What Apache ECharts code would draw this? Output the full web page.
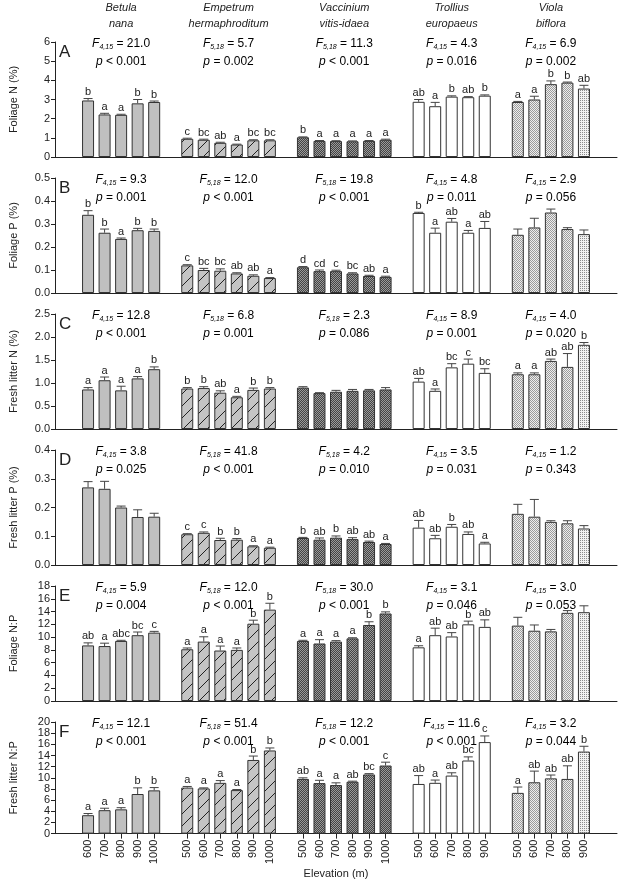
<!DOCTYPE html>
<html><head><meta charset="utf-8">
<script src="https://cdn.jsdelivr.net/npm/echarts@6/dist/echarts.min.js"></script>
<style>html,body{margin:0;padding:0;background:#fff}#c{width:620px;height:880px}</style>
</head><body><div id="c"></div>
<script>
// ---------- DATA ----------
const speciesTop = ['Betula','Empetrum','Vaccinium','Trollius','Viola'];
const speciesBottom = ['nana','hermaphroditum','vitis-idaea','europaeus','biflora'];
const betulaElev = ['600','700','800','900','1000'];
const empetrumElev = ['500','600','700','800','900','1000'];
const vacciniumElev = ['500','600','700','800','900','1000'];
const trolliusElev = ['500','600','700','800','900'];
const violaElev = ['500','600','700','800','900'];
const dfLabels = ['4,15','5,18','5,18','4,15','4,15'];

const panelLetters = ['A','B','C','D','E','F'];
const yNames = ['Foliage N (%)','Foliage P (%)','Fresh litter N (%)','Fresh litter P (%)','Foliage N:P','Fresh litter N:P'];
const yMax = [6, 0.5, 2.5, 0.4, 18, 20];
const yInterval = [1, 0.1, 0.5, 0.1, 2, 2];

// order: Betula(5), Empetrum(6), Vaccinium(6), Trollius(5), Viola(5)
const foliageN = [2.95,2.22,2.2,2.8,2.87, 0.95,0.9,0.74,0.65,0.87,0.87, 1.03,0.84,0.83,0.82,0.84,0.9, 2.88,2.65,3.15,3.12,3.2, 2.87,3.0,3.8,3.88,3.57];
const foliageNErr = [0.1,0.06,0.03,0.2,0.05, 0.03,0.03,0.03,0.02,0.03,0.03, 0.02,0.02,0.02,0.02,0.02,0.03, 0.12,0.2,0.04,0.03,0.04, 0.03,0.17,0.17,0.03,0.17];
const foliageNLet = ['b','a','a','b','b', 'c','bc','ab','a','bc','bc', 'b','a','a','a','a','a', 'ab','a','b','ab','b', 'a','a','b','b','ab'];

const foliageP = [0.34,0.262,0.235,0.273,0.27, 0.12,0.1,0.097,0.085,0.075,0.065, 0.112,0.095,0.095,0.085,0.074,0.07, 0.348,0.262,0.31,0.262,0.283, 0.253,0.285,0.35,0.278,0.256];
const foliagePErr = [0.018,0.016,0.004,0.008,0.008, 0.003,0.007,0.008,0.003,0.004,0.002, 0.003,0.005,0.004,0.003,0.003,0.003, 0.003,0.02,0.014,0.01,0.028, 0.025,0.04,0.015,0.006,0.018];
const foliagePLet = ['b','b','a','b','b', 'c','bc','bc','ab','ab','a', 'd','cd','c','bc','ab','a', 'b','a','ab','a','ab', '','','','',''];

const litterN = [0.86,1.06,0.84,1.1,1.3, 0.88,0.89,0.79,0.69,0.85,0.88, 0.9,0.78,0.81,0.83,0.84,0.86, 1.03,0.83,1.34,1.42,1.22, 1.19,1.19,1.48,1.35,1.83];
const litterNErr = [0.04,0.07,0.09,0.04,0.05, 0.02,0.03,0.04,0.02,0.04,0.02, 0.02,0.01,0.03,0.03,0.02,0.04, 0.07,0.04,0.08,0.1,0.09, 0.03,0.03,0.04,0.29,0.05];
const litterNLet = ['a','a','a','a','b', 'b','b','ab','a','b','b', '','','','','','', 'ab','a','bc','c','bc', 'a','a','ab','ab','b'];

const litterP = [0.27,0.265,0.2,0.167,0.168, 0.107,0.112,0.087,0.088,0.065,0.06, 0.094,0.088,0.095,0.09,0.08,0.073, 0.13,0.093,0.133,0.108,0.075, 0.178,0.168,0.15,0.145,0.127];
const litterPErr = [0.02,0.026,0.005,0.025,0.012, 0.002,0.003,0.006,0.004,0.002,0.002, 0.002,0.006,0.006,0.005,0.003,0.002, 0.025,0.01,0.008,0.007,0.004, 0.033,0.06,0.004,0.009,0.01];
const litterPLet = ['','','','','', 'c','c','b','b','a','a', 'b','ab','b','ab','ab','a', 'ab','ab','b','ab','a', '','','','',''];

const foliageNP = [8.7,8.6,9.4,10.3,10.7, 8.1,9.3,7.9,8.0,12.1,14.3, 9.4,9.0,9.3,9.8,11.9,13.7, 8.4,10.3,10.1,12.0,11.6, 11.8,11.0,10.9,13.8,13.9];
const foliageNPErr = [0.4,0.45,0.1,0.5,0.2, 0.2,0.75,0.7,0.3,0.55,1.0, 0.1,0.6,0.15,0.1,0.5,0.25, 0.25,1.1,0.6,0.5,1.1, 1.3,0.9,0.3,0.35,1.0];
const foliageNPLet = ['ab','a','abc','bc','c', 'a','a','a','a','b','b', 'a','a','a','a','b','b', 'a','ab','ab','b','ab', '','','','',''];

const litterNP = [3.3,4.2,4.35,7.1,7.75, 8.25,8.1,9.1,7.8,13.2,14.9, 9.8,9.05,8.7,9.3,10.6,12.2, 8.9,9.1,10.4,13.1,16.4, 7.3,9.2,9.9,9.8,14.7];
const litterNPErr = [0.3,0.35,0.3,1.1,0.5, 0.2,0.1,0.4,0.1,0.7,0.45, 0.2,0.5,0.4,0.1,0.15,0.6, 1.5,0.5,0.5,0.65,1.1, 1.05,2.0,0.6,2.35,0.95];
const litterNPLet = ['a','a','a','b','b', 'a','a','a','a','b','b', 'ab','a','a','ab','bc','c', 'ab','a','ab','bc','c', 'a','ab','ab','ab','b'];

const fA = ['21.0','5.7','11.3','4.3','6.9'];
const pA = ['< 0.001','= 0.002','< 0.001','= 0.016','= 0.002'];
const fB = ['9.3','12.0','19.8','4.8','2.9'];
const pB = ['= 0.001','< 0.001','< 0.001','= 0.011','= 0.056'];
const fC = ['12.8','6.8','2.3','8.9','4.0'];
const pC = ['< 0.001','= 0.001','= 0.086','= 0.001','= 0.020'];
const fD = ['3.8','41.8','4.2','3.5','1.2'];
const pD = ['= 0.025','< 0.001','= 0.010','= 0.031','= 0.343'];
const fE = ['5.9','12.0','30.0','3.1','3.0'];
const pE = ['= 0.004','< 0.001','< 0.001','= 0.046','= 0.053'];
const fF = ['12.1','51.4','12.2','11.6','3.2'];
const pF = ['< 0.001','< 0.001','< 0.001','< 0.001','= 0.044'];

// ---------- BUILD ----------
const groups = [betulaElev, empetrumElev, vacciniumElev, trolliusElev, violaElev];
const xCats = ['', ''];
const barIndex = [];
const barGroup = [];
const groupRange = [];
groups.forEach((g, gi) => {
  if (gi > 0) xCats.push('');
  const start = xCats.length;
  g.forEach(e => { barIndex.push(xCats.length); barGroup.push(gi); xCats.push(e); });
  groupRange.push([start, xCats.length - 1]);
});
xCats.push('', '');

const panels = [
  {v: foliageN, e: foliageNErr, l: foliageNLet, f: fA, p: pA},
  {v: foliageP, e: foliagePErr, l: foliagePLet, f: fB, p: pB},
  {v: litterN, e: litterNErr, l: litterNLet, f: fC, p: pC},
  {v: litterP, e: litterPErr, l: litterPLet, f: fD, p: pD},
  {v: foliageNP, e: foliageNPErr, l: foliageNPLet, f: fE, p: pE},
  {v: litterNP, e: litterNPErr, l: litterNPLet, f: fF, p: pF}
];

function pat(w, h, draw) {
  const c = document.createElement('canvas'); c.width = w; c.height = h;
  const g = c.getContext('2d'); draw(g); return {image: c, repeat: 'repeat'};
}
const colBetula = '#c0c0c0';
const colEmp = pat(12, 12, g => { g.fillStyle = '#c4c4c4'; g.fillRect(0,0,12,12); g.strokeStyle = '#222'; g.lineWidth = 1; g.beginPath(); g.moveTo(-1,13); g.lineTo(13,-1); g.stroke(); });
const colVac = pat(2, 2, g => { g.fillStyle = '#444'; g.fillRect(0,0,2,2); g.fillStyle = '#9a9a9a'; g.fillRect(0,0,1,1); g.fillRect(1,1,1,1); });
const colTro = '#ffffff';
const colVio = pat(2, 2, g => { g.fillStyle = '#eeeeee'; g.fillRect(0,0,2,2); g.fillStyle = '#9c9c9c'; g.fillRect(0,0,1,1); g.fillRect(1,1,1,1); });
const colVio2 = pat(2, 2, g => { g.fillStyle = '#f2f2f2'; g.fillRect(0,0,2,2); g.fillStyle = '#8c8c8c'; g.fillRect(0,0,1,1); });
const groupColors = [colBetula, colEmp, colVac, colTro, colVio];

const FONT = '"Liberation Sans", Arial, sans-serif';
const TXT = '#222';
const gridTop0 = 42, gridPitch = 136, gridH = 115;

const grid = [], xAxis = [], yAxis = [], series = [], graphic = [];
panels.forEach((pn, k) => {
  const top = gridTop0 + k * gridPitch;
  grid.push({left: 50, right: 3, top: top, height: gridH});
  const last = k === panels.length - 1;
  xAxis.push({
    type: 'category', gridIndex: k, data: xCats, boundaryGap: false,
    axisLine: {show: true, lineStyle: {color: TXT, width: 1}},
    axisTick: {show: last, length: 5, interval: (i, v) => v !== '', lineStyle: {color: TXT}},
    axisLabel: {show: last, interval: 0, rotate: 90, fontSize: 11, fontFamily: FONT, color: TXT, margin: 6},
    name: last ? 'Elevation (m)' : '', nameLocation: 'middle', nameGap: 33,
    nameTextStyle: {fontSize: 11, fontFamily: FONT, color: TXT},
    splitLine: {show: false}
  });
  yAxis.push({
    type: 'value', gridIndex: k, min: 0, max: yMax[k], interval: yInterval[k],
    axisLine: {show: true, lineStyle: {color: TXT, width: 1}},
    axisTick: {show: true, length: 4, lineStyle: {color: TXT}},
    axisLabel: {fontSize: 11, fontFamily: FONT, color: TXT, margin: 5,
      formatter: v => (yInterval[k] < 1 ? v.toFixed(1) : String(v))},
    splitLine: {show: false},
    name: yNames[k], nameLocation: 'middle', nameGap: 36,
    nameTextStyle: {fontSize: 11, fontFamily: FONT, color: TXT}
  });
  const barData = xCats.map(() => null);
  pn.v.forEach((val, i) => {
    const gi = barGroup[i];
    let col = groupColors[gi];
    if (gi === 4 && i === pn.v.length - 1) col = colVio2;
    barData[barIndex[i]] = {value: val, itemStyle: {color: col}};
  });
  series.push({
    type: 'bar', xAxisIndex: k, yAxisIndex: k, data: barData, barWidth: 12,
    itemStyle: {borderColor: '#333', borderWidth: 1}, silent: true, animation: false
  });
  const errData = pn.v.map((val, i) => [barIndex[i], val, pn.e[i]]);
  const lets = pn.l;
  series.push({
    type: 'custom', xAxisIndex: k, yAxisIndex: k, data: errData, z: 5, animation: false,
    encode: {x: 0, y: 1},
    renderItem: (params, api) => {
      const x = api.value(0), m = api.value(1), e = api.value(2);
      const p0 = api.coord([x, m]), p1 = api.coord([x, m + e]);
      const st = {stroke: '#444', lineWidth: 1};
      const ch = [
        {type: 'line', shape: {x1: p0[0], y1: p0[1], x2: p1[0], y2: p1[1]}, style: st},
        {type: 'line', shape: {x1: p1[0] - 4.5, y1: p1[1], x2: p1[0] + 4.5, y2: p1[1]}, style: st}
      ];
      const L = lets[params.dataIndex];
      if (L) ch.push({type: 'text', x: p1[0], y: p1[1] - 1, style: {text: L, fill: TXT, font: '11px ' + FONT,
        align: 'center', verticalAlign: 'bottom', textAlign: 'center', textVerticalAlign: 'bottom'}});
      return {type: 'group', children: ch};
    }
  });
  const statData = groupRange.map(r => [r[0], 0, r[1]]);
  series.push({
    type: 'custom', xAxisIndex: k, yAxisIndex: k, data: statData, z: 6, animation: false,
    encode: {x: 0, y: 1},
    renderItem: (params, api) => {
      const a = api.coord([api.value(0), 0]), b = api.coord([api.value(2), 0]);
      const cx = (a[0] + b[0]) / 2, t = params.coordSys.y;
      const gi = params.dataIndex;
      const rich = {
        i: {fontStyle: 'italic', fontSize: 12, fontFamily: FONT, color: TXT, lineHeight: 14},
        s: {fontStyle: 'italic', fontSize: 7, fontFamily: FONT, color: TXT, lineHeight: 7, verticalAlign: 'bottom'},
        n: {fontSize: 12, fontFamily: FONT, color: TXT, lineHeight: 14}
      };
      const ch = [
        {type: 'text', x: cx, y: t + 2, style: {text: '{i|F}{s|' + dfLabels[gi] + '}{n| = ' + pn.f[gi] + '}', rich: rich,
          align: 'center', verticalAlign: 'middle', textAlign: 'center', textVerticalAlign: 'middle'}},
        {type: 'text', x: cx, y: t + 20, style: {text: '{i|p}{n| ' + pn.p[gi] + '}', rich: rich,
          align: 'center', verticalAlign: 'middle', textAlign: 'center', textVerticalAlign: 'middle'}}
      ];
      if (k === 0) {
        ch.push({type: 'text', x: cx, y: t - 34, style: {text: speciesTop[gi], fill: TXT, font: 'italic 11px ' + FONT,
          align: 'center', verticalAlign: 'middle', textAlign: 'center', textVerticalAlign: 'middle'}});
        ch.push({type: 'text', x: cx, y: t - 18, style: {text: speciesBottom[gi], fill: TXT, font: 'italic 11px ' + FONT,
          align: 'center', verticalAlign: 'middle', textAlign: 'center', textVerticalAlign: 'middle'}});
      }
      return {type: 'group', children: ch};
    }
  });
  graphic.push({type: 'text', left: 59, top: top + 2, style: {text: panelLetters[k], fill: TXT, font: '17px ' + FONT}});
});

const chart = echarts.init(document.getElementById('c'), null, {renderer: 'canvas'});
chart.setOption({animation: false, grid, xAxis, yAxis, series, graphic});
</script></body></html>
